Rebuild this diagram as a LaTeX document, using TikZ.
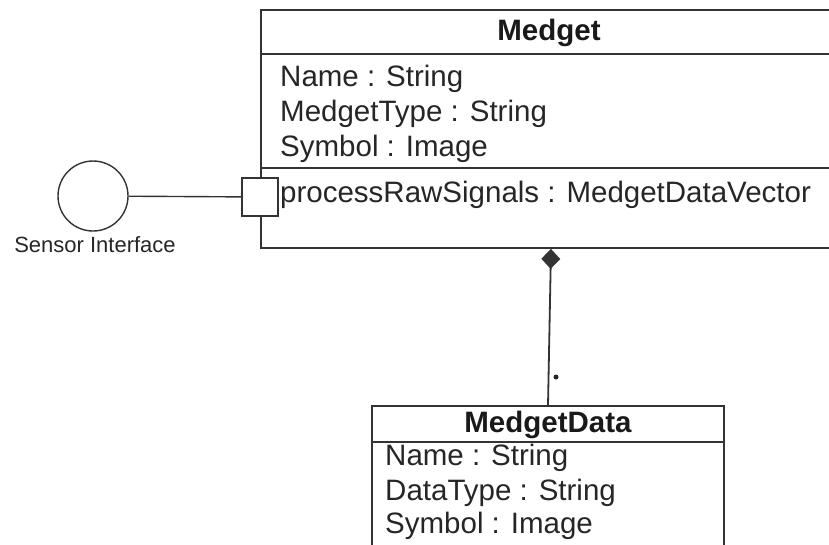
\documentclass[tikz,border=0pt]{standalone}
\usepackage{fontspec}
\setmainfont{Liberation Sans}
\usetikzlibrary{
    arrows.meta,
    positioning
}
\tikzset{
    umlbox/.style={draw=black!80, line width=1.8pt, fill=white, inner sep=0pt},
    umlline/.style={draw=black!80, line width=1.8pt},
    umltext/.style={anchor=base west, inner sep=0pt, text=black!85,
        font=\fontsize{29.5}{34}\selectfont},
    umltitle/.style={anchor=base, inner sep=0pt, text=black!90,
        font=\fontsize{29.5}{34}\selectfont\bfseries}
}

\begin{document}
\begin{tikzpicture}[x=1pt, y=-1pt]
    \useasboundingbox (0,0) rectangle (829,544);

    % Medget class
    \node[umlbox, minimum width=576pt, minimum height=238pt] (medget) at (549,129) {};
    \draw[umlline] (261,54) -- (837,54);
    \draw[umlline] (261,168) -- (837,168);
    \node[umltitle] (medgettitle) at (549,40) {Medget};
    \node[umltext] (mname)   at (280,86)  {Name : String};
    \node[umltext] (mtype)   at (280,121) {MedgetType : String};
    \node[umltext] (msymbol) at (280,156) {Symbol : Image};
    \node[umltext] (mproc)   at (280,202) {processRawSignals : MedgetDataVector};

    % port and interface
    \node[umlbox, minimum width=36pt, minimum height=38pt] (port) at (260,197) {};
    \node[umlbox, circle, minimum size=70pt, line width=1.4pt] (iface) at (93,196) {};
    \node[anchor=base, inner sep=0pt, text=black!85, font=\fontsize{22}{26}\selectfont]
        (ifacelabel) at (95,252) {Sensor Interface};
    \draw[umlline, line width=1.4pt] (iface) -- (port);

    % MedgetData class
    \node[umlbox, minimum width=352pt, minimum height=164pt] (data) at (548,488) {};
    \draw[umlline] (372,442) -- (724,442);
    \node[umltitle] (datatitle) at (548,432) {MedgetData};
    \node[umltext] (dname)   at (385,465) {Name : String};
    \node[umltext] (dtype)   at (385,500) {DataType : String};
    \node[umltext] (dsymbol) at (385,533) {Symbol : Image};

    % composition
    \draw[umlline, {Diamond[length=20pt, width=19pt]}-] ([xshift=2pt]medget.south) -- (data.north);
    \coordinate (mult) at (556,377);
    \fill[black!85] (mult) circle (2.5pt);
\end{tikzpicture}
\end{document}
